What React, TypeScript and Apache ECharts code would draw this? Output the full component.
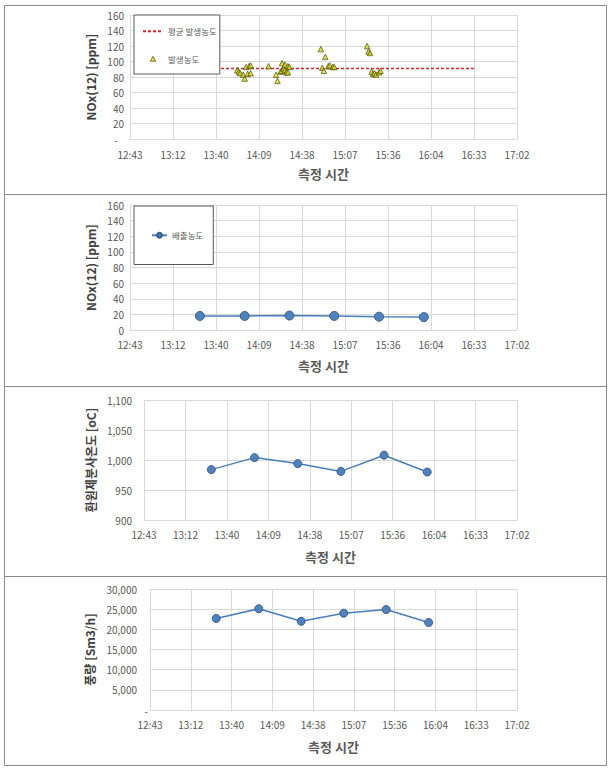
import React, { useEffect, useRef } from "react";
import * as echarts from "echarts";

// x-axis tick labels (Excel time axis: 12:43:12 start, 0.02 day steps)
const timeTicks = ["12:43", "13:12", "13:40", "14:09", "14:38", "15:07", "15:36", "16:04", "16:33", "17:02"];
const AXIS_START_MIN = 0.53 * 1440;
const AXIS_STEP_MIN = 0.02 * 1440;

// Panel 1: generated NOx concentration (scatter) and average line
const scatterTimes = [
  "13:55", "13:56", "13:57", "13:59", "14:00", "14:01", "14:02", "14:03", "14:04", "14:04",
  "14:16", "14:21", "14:22", "14:24", "14:25", "14:25", "14:26", "14:27", "14:27", "14:28", "14:29", "14:29", "14:30",
  "14:51", "14:52", "14:53", "14:54", "14:56", "14:57", "14:59", "15:00",
  "15:22", "15:23", "15:24", "15:25", "15:26", "15:27", "15:28", "15:30", "15:31",
];
const scatterValues = [
  89, 87, 85, 83, 78, 93, 84, 94, 85, 95,
  94, 83, 75, 87, 88, 98, 91, 96, 89, 86, 94, 86, 93,
  116, 92, 88, 106, 94, 95, 93, 93,
  120, 113, 111, 87, 84, 85, 83, 86, 88,
];
const avgTimes = ["13:40:48", "16:33:36"];
const avgValue = 91;

// Panels 2-4: sampled every 30 minutes
const sampleTimes = ["13:30", "14:00", "14:30", "15:00", "15:30", "16:00"];
const emissionConc = [18, 18, 18.5, 18, 17, 16.5];
const reductantTemp = [984, 1004, 994, 981, 1008, 980];
const airflow = [22700, 25100, 22000, 24000, 24900, 21700];

const FONT = '"Noto Sans CJK KR", "Noto Sans", sans-serif';
const GRID_C = "#d9d9d9";
const TXT_C = "#595959";

const toMinutes = (t: string) => {
  const [h, m, s] = t.split(":").map(Number);
  return h * 60 + m + (s || 0) / 60;
};
const toX = (t: string) => (toMinutes(t) - AXIS_START_MIN) / AXIS_STEP_MIN;
const fmtNum = (v: number) => v.toLocaleString("en-US");

function mkX(i: number, margin: number, nameGap: number) {
  return {
    type: "value",
    gridIndex: i,
    min: 0,
    max: timeTicks.length - 1,
    interval: 1,
    axisLine: { show: true, lineStyle: { color: GRID_C } },
    axisTick: { show: false },
    splitLine: { show: true, lineStyle: { color: GRID_C } },
    axisLabel: {
      margin,
      color: TXT_C,
      fontSize: 10,
      lineHeight: 11,
      fontFamily: FONT,
      formatter: (v: number) => timeTicks[Math.round(v)] ?? "",
    },
    name: "측정 시간",
    nameLocation: "middle",
    nameGap,
    nameTextStyle: { fontSize: 13, fontWeight: "bold", color: TXT_C, fontFamily: FONT },
  };
}

function mkY(
  i: number,
  name: string,
  min: number,
  max: number,
  interval: number,
  margin: number,
  nameGap: number,
  formatter: (v: number) => string,
  rich: any
) {
  return {
    type: "value",
    gridIndex: i,
    min,
    max,
    interval,
    axisLine: { show: false },
    axisTick: { show: false },
    splitLine: { show: true, lineStyle: { color: GRID_C } },
    axisLabel: { margin, color: TXT_C, fontSize: 10, lineHeight: 9, fontFamily: FONT, formatter, rich },
    name,
    nameLocation: "middle",
    nameRotate: 90,
    nameGap,
    nameTextStyle: { fontSize: 12, fontWeight: "bold", color: "#404040", fontFamily: FONT },
  };
}

const lineStyleBlue = {
  type: "line",
  symbol: "circle",
  lineStyle: { color: "#4a7ebb", width: 1.5 },
  itemStyle: { color: "#4f81bd", borderColor: "#385d8a", borderWidth: 1 },
};

export default function App() {
  const ref = useRef<HTMLDivElement>(null);
  useEffect(() => {
    if (!ref.current) return;
    const chart = echarts.init(ref.current, null, { renderer: "svg" });
    const panels = [
      [5, 194],
      [194, 386],
      [386, 576],
      [576, 765],
    ];
    const option: any = {
      animation: false,
      backgroundColor: "#ffffff",
      textStyle: { fontFamily: FONT },
      graphic: panels.map(([y0, y1]) => ({
        type: "rect",
        silent: true,
        z: -10,
        shape: { x: 4.5, y: y0 + 0.5, width: 602, height: y1 - y0 },
        style: { fill: "none", stroke: "#8a8a8a", lineWidth: 1 },
      })),
      grid: [
        { left: 130, top: 15, width: 387, height: 124 },
        { left: 130, top: 205, width: 387, height: 125 },
        { left: 144, top: 400, width: 373, height: 120 },
        { left: 150, top: 589, width: 367, height: 121 },
      ],
      xAxis: [mkX(0, 10, 28), mkX(1, 9, 29), mkX(2, 9, 30), mkX(3, 9, 30)],
      yAxis: [
        mkY(0, "NOx(12) [ppm]", 0, 160, 20, 6, 32,
          (v) => (v === 0 ? "{d|-}" : String(v)),
          { d: { padding: [0, 6, 0, 0], fontSize: 10, lineHeight: 8, color: TXT_C } }),
        mkY(1, "NOx(12) [ppm]", 0, 160, 20, 6, 32, (v) => String(v), undefined),
        mkY(2, "환원제분사온도 [oC]", 900, 1100, 50, 12, 45, (v) => fmtNum(v), undefined),
        mkY(3, "풍량 [Sm3/h]", 0, 30000, 5000, 2, 47,
          (v) => (v === 0 ? "{d|-}" : `{n|${fmtNum(v)}}`),
          {
            n: { padding: [0, 11, 0, 0], fontSize: 10, lineHeight: 9, color: TXT_C },
            d: { fontSize: 10, lineHeight: 6, color: TXT_C },
          }),
      ],
      legend: [
        {
          left: 134,
          top: 15,
          orient: "vertical",
          data: [
            { name: "평균 발생농도", itemStyle: { color: "rgba(0,0,0,0)", borderWidth: 0 } },
            {
              name: "발생농도",
              icon: "path://M5,0L10,9L0,9Z",
              itemStyle: { color: "#d6d620", borderColor: "#3d3d00", borderWidth: 0.8 },
            },
          ],
          itemWidth: 20,
          itemHeight: 5,
          itemGap: 19,
          symbolKeepAspect: true,
          padding: [12, 3, 11, 8],
          borderColor: "#595959",
          borderWidth: 1,
          backgroundColor: "#ffffff",
          textStyle: { fontSize: 8.5, color: TXT_C, fontFamily: FONT },
        },
        {
          left: 134,
          top: 206,
          orient: "vertical",
          data: ["배출농도"],
          itemWidth: 15,
          itemHeight: 6,
          padding: [25, 10, 25, 17],
          borderColor: "#595959",
          borderWidth: 1,
          backgroundColor: "#ffffff",
          textStyle: { fontSize: 8.5, color: TXT_C, fontFamily: FONT },
        },
      ],
      series: [
        {
          name: "평균 발생농도",
          type: "line",
          xAxisIndex: 0,
          yAxisIndex: 0,
          symbol: "none",
          data: avgTimes.map((t) => [toX(t), avgValue]),
          lineStyle: { color: "#d42a2a", width: 1.5, type: [3, 2] },
          itemStyle: { color: "#d42a2a" },
          z: 2,
        },
        {
          name: "발생농도",
          type: "scatter",
          xAxisIndex: 0,
          yAxisIndex: 0,
          symbol: "triangle",
          symbolSize: 5.5,
          data: scatterTimes.map((t, k) => [toX(t), scatterValues[k]]),
          itemStyle: { color: "#d6d620", borderColor: "#3d3d00", borderWidth: 0.8 },
          z: 3,
        },
        {
          ...lineStyleBlue,
          name: "배출농도",
          xAxisIndex: 1,
          yAxisIndex: 1,
          symbolSize: 9,
          data: sampleTimes.map((t, k) => [toX(t), emissionConc[k]]),
        },
        {
          ...lineStyleBlue,
          name: "환원제분사온도",
          xAxisIndex: 2,
          yAxisIndex: 2,
          symbolSize: 8,
          data: sampleTimes.map((t, k) => [toX(t), reductantTemp[k]]),
        },
        {
          ...lineStyleBlue,
          name: "풍량",
          xAxisIndex: 3,
          yAxisIndex: 3,
          symbolSize: 8,
          data: sampleTimes.map((t, k) => [toX(t), airflow[k]]),
        },
      ],
    };
    chart.setOption(option);
    return () => chart.dispose();
  }, []);
  return (
    <div
      ref={ref}
      style={{ position: "absolute", left: 0, top: 0, width: 611, height: 773, background: "#fff" }}
    />
  );
}
